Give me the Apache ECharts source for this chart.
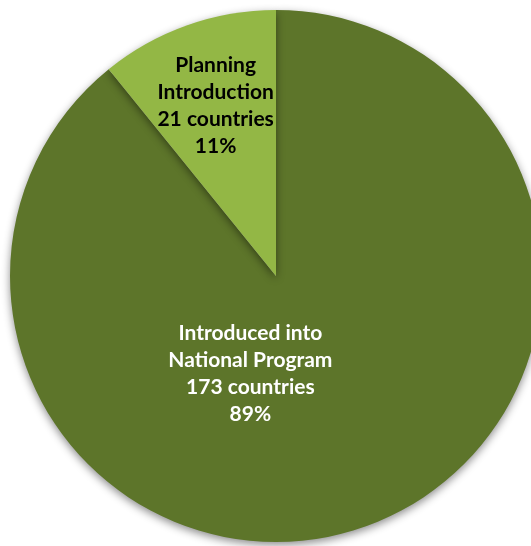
<!DOCTYPE html>
<html><head><meta charset="utf-8">
<script src="https://cdn.jsdelivr.net/npm/echarts@6/dist/echarts.min.js"></script>
<style>html,body{margin:0;padding:0;background:#fff}#c{width:531px;height:546px}</style>
</head><body><div id="c"></div>
<script>
var categories = ["Introduced into\nNational Program", "Planning\nIntroduction"];
var countries = [173, 21];
var percents = ["89%", "11%"];
var colors = ["#5d752a", "#93b745"];
var labelColors = ["#ffffff", "#000000"];
var labelOffsets = [[-71, -30], [-15, -42]];

var data = categories.map(function (c, i) {
  return {
    name: c,
    value: countries[i],
    itemStyle: { color: colors[i] },
    label: { color: labelColors[i], offset: labelOffsets[i] },
    pct: percents[i]
  };
});

var chart = echarts.init(document.getElementById('c'));
chart.setOption({
  animation: false,
  series: [{
    type: 'pie',
    center: [276, 276],
    radius: [0, 266],
    startAngle: 90,
    clockwise: true,
    data: data,
    itemStyle: {
      shadowBlur: 8,
      shadowOffsetY: 3,
      shadowColor: 'rgba(0,0,0,0.45)'
    },
    label: {
      show: true,
      position: 'inside',
      fontFamily: 'Lato',
      fontWeight: 'bold',
      fontSize: 21,
      lineHeight: 27,
      align: 'center',
      formatter: function (p) {
        return p.name + '\n' + p.value + ' countries\n' + p.data.pct;
      }
    },
    labelLine: { show: false },
    emphasis: { disabled: true }
  }]
});
</script></body></html>
